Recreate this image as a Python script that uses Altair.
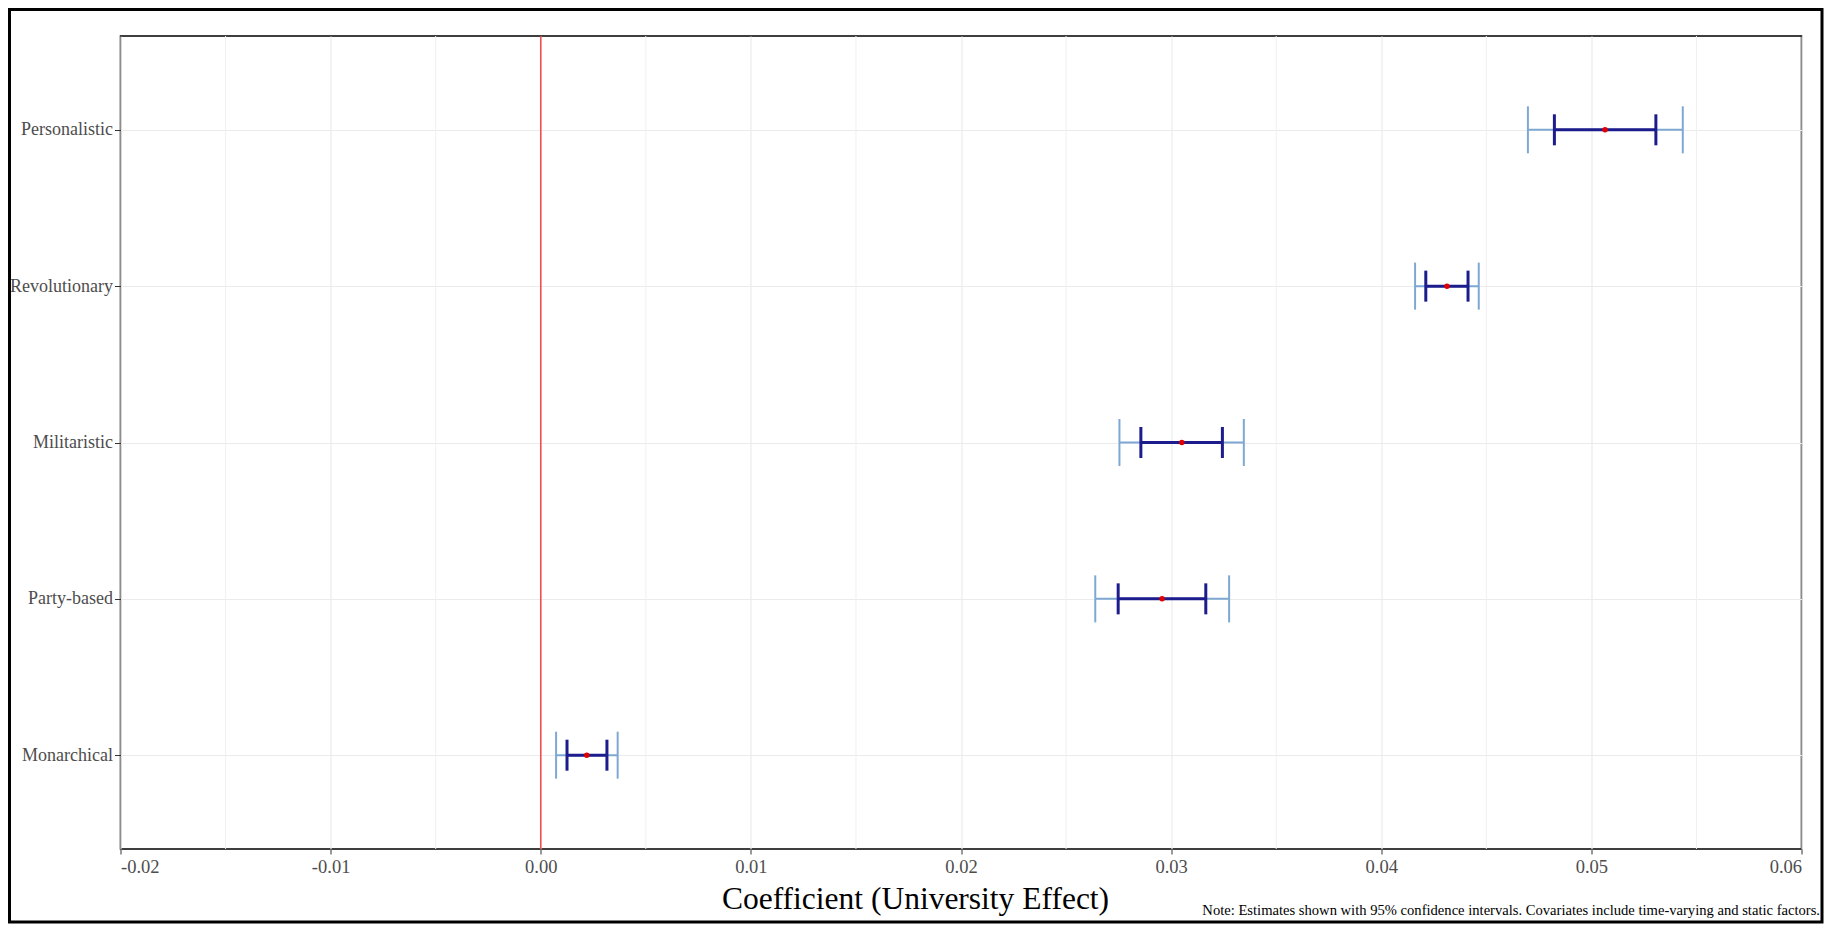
import altair as alt
import pandas as pd

categories = ["Personalistic", "Revolutionary", "Militaristic", "Party-based", "Monarchical"]
estimate = [0.05065, 0.04313, 0.03051, 0.02957, 0.00219]
ci95_low = [0.04698, 0.04161, 0.02754, 0.02639, 0.00073]
ci95_high = [0.05435, 0.04464, 0.03346, 0.03276, 0.00366]
ci_inner_low = [0.04824, 0.04212, 0.02856, 0.02748, 0.00125]
ci_inner_high = [0.05307, 0.04413, 0.03244, 0.03165, 0.00315]

x_ticks = [-0.02, -0.01, 0.0, 0.01, 0.02, 0.03, 0.04, 0.05, 0.06]
x_minor = [-0.015, -0.005, 0.005, 0.015, 0.025, 0.035, 0.045, 0.055]
ref_line = [0.0]
x_title = "Coefficient (University Effect)"
note = ["Note: Estimates shown with 95% confidence intervals. Covariates include time-varying and static factors."]

df = pd.DataFrame({
    "category": categories,
    "est": estimate,
    "lo95": ci95_low,
    "hi95": ci95_high,
    "lo": ci_inner_low,
    "hi": ci_inner_high,
})

FONT = "Liberation Serif"
W, H = 1681, 813

xscale = alt.Scale(domain=[-0.02, 0.06], nice=False, zero=False)
yscale = alt.Scale(type="point", padding=0.6)

x_axis = alt.Axis(
    values=x_ticks,
    labelExpr="replace(format(datum.value, '.2f'), '\u2212', '-')",
    labelFont=FONT, labelFontSize=18.5, labelColor="#4d4d4d",
    tickColor="#333333", tickSize=5, labelPadding=3, domain=False,
    grid=True, gridColor="#ebebeb", gridWidth=1.2,
    title=x_title, titleFont=FONT, titleFontSize=31.5, titleFontWeight="normal",
    titleColor="black", titleX=794.5, titleY=59, titleAlign="center",
    titleBaseline="alphabetic",
)
y_axis = alt.Axis(
    labelFont=FONT, labelFontSize=18, labelColor="#4d4d4d",
    tickColor="#333333", tickSize=6, labelPadding=2, domain=False,
    grid=True, gridColor="#ebebeb", gridWidth=1.2, title=None,
)

base = alt.Chart(df)
Y = alt.Y("category:N", sort=categories, scale=yscale, axis=y_axis)

minor = alt.Chart(pd.DataFrame({"v": x_minor})).mark_rule(
    color="#f0f0f0", strokeWidth=1
).encode(x=alt.X("v:Q", scale=xscale, axis=x_axis))

zero = alt.Chart(pd.DataFrame({"v": ref_line})).mark_rule(
    color="#ee3333", strokeWidth=1.6, opacity=0.85
).encode(x=alt.X("v:Q", scale=xscale))

LIGHT = "#7ea8d3"
DARK = "#1c1c8c"

outer_bar = base.mark_rule(color=LIGHT, strokeWidth=2).encode(
    x=alt.X("lo95:Q", scale=xscale), x2="hi95:Q", y=Y)
outer_lo = base.mark_tick(color=LIGHT, size=47, thickness=2, opacity=1).encode(
    x=alt.X("lo95:Q", scale=xscale), y=Y)
outer_hi = base.mark_tick(color=LIGHT, size=47, thickness=2, opacity=1).encode(
    x=alt.X("hi95:Q", scale=xscale), y=Y)

inner_bar = base.mark_rule(color=DARK, strokeWidth=3).encode(
    x=alt.X("lo:Q", scale=xscale), x2="hi:Q", y=Y)
inner_lo = base.mark_tick(color=DARK, size=31, thickness=3, opacity=1).encode(
    x=alt.X("lo:Q", scale=xscale), y=Y)
inner_hi = base.mark_tick(color=DARK, size=31, thickness=3, opacity=1).encode(
    x=alt.X("hi:Q", scale=xscale), y=Y)

points = base.mark_circle(color="#e00000", size=30, opacity=1).encode(
    x=alt.X("est:Q", scale=xscale), y=Y)

note_text = alt.Chart(pd.DataFrame({"t": note})).mark_text(
    align="right", baseline="alphabetic", font=FONT, fontSize=14.6, color="black"
).encode(x=alt.value(1699.5), y=alt.value(879), text="t:N")

border = alt.Chart(pd.DataFrame({"t": note})).mark_rect(
    fill=None, stroke="black", strokeWidth=3
).encode(x=alt.value(-111), x2=alt.value(1701.5), y=alt.value(-26.5), y2=alt.value(886))

chart = alt.layer(
    minor, zero, outer_bar, outer_lo, outer_hi, inner_bar, inner_lo, inner_hi,
    points, note_text, border
).properties(
    width=W, height=H,
    autosize=alt.AutoSizeParams(type="none"),
    padding={"left": 112.5, "top": 28, "right": 24.5, "bottom": 75},
    background="white",
).configure_view(stroke="black", strokeWidth=1.5)

chart.save("out.html", embed_options={"renderer": "svg", "actions": False})
